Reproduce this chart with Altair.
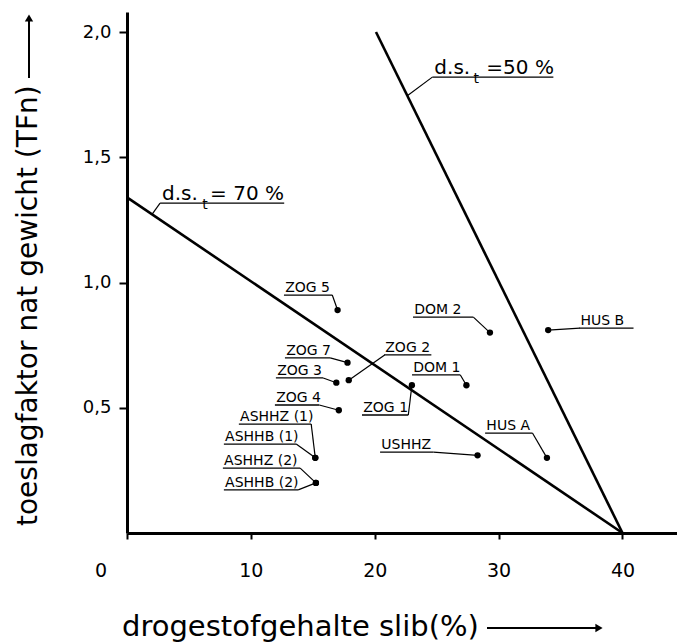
import altair as alt
import pandas as pd

FONT = "DejaVu Sans"

# ---- measured samples (drogestofgehalte %, toeslagfaktor TFn) ----
names = ["ZOG 5", "ZOG 7", "ZOG 3", "ZOG 2", "ZOG 4", "ASHHZ (1)", "ASHHB (1)",
         "ASHHZ (2)", "ASHHB (2)", "ZOG 1", "USHHZ", "DOM 2", "DOM 1", "HUS A", "HUS  B"]
ds_pct = [17.0, 17.8, 16.9, 17.9, 17.1, 15.2, 15.2, 15.25, 15.25, 23.0, 28.3, 29.3, 27.4, 33.9, 34.0]
tfn = [0.89, 0.68, 0.60, 0.61, 0.49, 0.30, 0.30, 0.20, 0.20, 0.59, 0.31, 0.80, 0.59, 0.30, 0.81]

# ---- label placement (data units): text start, underline end, underline level, leader side ----
label_left = [12.77, 12.85, 12.12, 20.85, 12.04, 9.13, 7.92, 7.84, 7.92, 19.07, 20.53, 23.19, 23.11, 29.01, 36.61]
label_right = [16.57, 16.40, 15.84, 24.57, 15.52, 14.87, 13.66, 13.98, 13.82, 22.71, 24.73, 27.96, 26.91, 32.73, 40.89]
label_level = [0.950, 0.699, 0.619, 0.711, 0.511, 0.435, 0.355, 0.259, 0.172, 0.471, 0.323, 0.862, 0.631, 0.399, 0.818]
leader_side = ["R", "R", "R", "L", "R", "R", "R", "R", "R", "R", "R", "R", "R", "R", "L"]

# ---- reference lines d.s.t = 70 % and 50 % ----
line_series = ["70", "70", "50", "50"]
line_x = [0.0, 40.0, 20.1, 40.0]
line_y = [1.34, 0.0, 2.0, 0.0]

# line labels: ("d.s." start, "t" pos, "=.." start, underline start/end, level, leader end x/y)
ds_value_text = ["= 70 %", "=50 %"]
ds_text_x = [2.83, 24.81]
ds_t_x = [6.30, 28.20]
ds_val_x = [6.71, 29.01]
ds_ul_x1 = [2.67, 24.65]
ds_ul_x2 = [12.69, 34.42]
ds_level = [1.317, 1.820]
ds_lead_x = [2.02, 22.63]
ds_lead_y = [1.272, 1.746]

x_ticks = [0, 10, 20, 30, 40]
y_ticks = [0.5, 1.0, 1.5, 2.0]

XDOM = [0, 44.4]
YDOM = [0, 2.08]

xs = alt.Scale(domain=XDOM, nice=False, zero=False)
ys = alt.Scale(domain=YDOM, nice=False, zero=False)

x_axis = alt.Axis(values=x_ticks, labelExpr="datum.value == 0 ? '' : datum.label",
                  tickSize=6, tickWidth=2, domainWidth=3, labelFontSize=19, labelFont=FONT,
                  labelPadding=22, grid=False, title=None, domainColor="black",
                  tickColor="black", labelColor="black")
y_axis = alt.Axis(values=y_ticks, labelExpr="replace(format(datum.value, '.1f'), '.', ',')",
                  tickSize=8, tickWidth=2, domainWidth=3, labelFontSize=18, labelFont=FONT,
                  labelPadding=8, grid=False, title=None, domainColor="black",
                  tickColor="black", labelColor="black")


def X(f="x"):
    return alt.X(f"{f}:Q", scale=xs, axis=x_axis)


def Y(f="y"):
    return alt.Y(f"{f}:Q", scale=ys, axis=y_axis)


pts = pd.DataFrame({"x": ds_pct, "y": tfn, "name": names})

lab_rows = []
for i in range(len(names)):
    sx = label_right[i] if leader_side[i] == "R" else label_left[i] - 0.05
    lab_rows.append({"x": label_left[i] - 0.1, "x2": label_right[i], "y": label_level[i],
                     "tx": label_left[i], "name": names[i],
                     "lx": sx, "lx2": ds_pct[i], "ly2": tfn[i]})
labs = pd.DataFrame(lab_rows)

lines_df = pd.DataFrame({"x": line_x, "y": line_y, "series": line_series})

ds_df = pd.DataFrame({"x": ds_text_x, "tx": ds_t_x, "vx": ds_val_x, "ux1": ds_ul_x1,
                      "ux2": ds_ul_x2, "y": ds_level, "lx": ds_lead_x, "ly": ds_lead_y,
                      "val": ds_value_text})

lines = alt.Chart(lines_df).mark_line(color="black", strokeWidth=2.6).encode(
    x=X(), y=Y(), detail="series:N")

points = alt.Chart(pts).mark_circle(size=40, color="black", opacity=1).encode(x=X(), y=Y())

label_text = alt.Chart(labs).mark_text(align="left", baseline="alphabetic", dy=-3,
                                       fontSize=14, font=FONT, color="black").encode(
    x=X("tx"), y=Y(), text="name:N")
underline = alt.Chart(labs).mark_rule(color="black", strokeWidth=1.3).encode(
    x=X(), x2="x2:Q", y=Y())
leader = alt.Chart(labs).mark_rule(color="black", strokeWidth=1.2).encode(
    x=X("lx"), x2="lx2:Q", y=Y(), y2="ly2:Q")

ds_txt = alt.Chart(ds_df).mark_text(align="left", baseline="alphabetic", dy=-3, fontSize=20,
                                    font=FONT, color="black").encode(
    x=X(), y=Y(), text=alt.value("d.s."))
ds_t = alt.Chart(ds_df).mark_text(align="center", baseline="alphabetic", dy=6, fontSize=14,
                                  font=FONT, color="black").encode(
    x=X("tx"), y=Y(), text=alt.value("t"))
ds_val = alt.Chart(ds_df).mark_text(align="left", baseline="alphabetic", dy=-3, fontSize=20,
                                    font=FONT, color="black").encode(
    x=X("vx"), y=Y(), text="val:N")
ds_ul = alt.Chart(ds_df).mark_rule(color="black", strokeWidth=1.3).encode(
    x=X("ux1"), x2="ux2:Q", y=Y())
ds_lead = alt.Chart(ds_df).mark_rule(color="black", strokeWidth=1.2).encode(
    x=X("ux1"), x2="lx:Q", y=Y(), y2="ly:Q")

zero_lab = alt.Chart(pd.DataFrame({"x": [-2.1], "y": [0.0], "t": ["0"]})).mark_text(
    fontSize=19, font=FONT, color="black", baseline="middle", dy=38).encode(
    x=X(), y=Y(), text="t:N")

# ---- axis titles with arrows ----
one = pd.DataFrame({"a": [0]})
x_title = alt.Chart(one).mark_text(align="left", baseline="alphabetic", fontSize=29,
                                   font=FONT, color="black").encode(
    x=alt.value(-5), y=alt.value(624), text=alt.value("drogestofgehalte slib(%)"))
x_arrow = alt.Chart(one).mark_rule(color="black", strokeWidth=2).encode(
    x=alt.value(360), x2=alt.value(470), y=alt.value(616))
x_head = alt.Chart(one).mark_point(shape="triangle-right", filled=True, color="black",
                                   opacity=1, size=70).encode(
    x=alt.value(472), y=alt.value(616))
y_title = alt.Chart(one).mark_text(align="left", baseline="alphabetic", angle=270, fontSize=28,
                                   font=FONT, color="black").encode(
    x=alt.value(-90), y=alt.value(514), text=alt.value("toeslagfaktor nat gewicht (TFn)"))
y_arrow = alt.Chart(one).mark_rule(color="black", strokeWidth=2).encode(
    x=alt.value(-98), y=alt.value(66), y2=alt.value(8))
y_head = alt.Chart(one).mark_point(shape="triangle-up", filled=True, color="black",
                                   opacity=1, size=70).encode(
    x=alt.value(-98), y=alt.value(6))

chart = alt.layer(
    lines, underline, leader, label_text, points, ds_ul, ds_lead, ds_txt, ds_t, ds_val,
    zero_lab, x_title, x_arrow, x_head, y_title, y_arrow, y_head
).properties(
    width=550, height=521,
    autosize=alt.AutoSizeParams(type="none"),
    padding={"left": 127, "top": 12, "right": 0, "bottom": 109},
    background="white",
).configure_view(stroke=None)

chart.save("out.html", embed_options={"renderer": "svg", "actions": False})
